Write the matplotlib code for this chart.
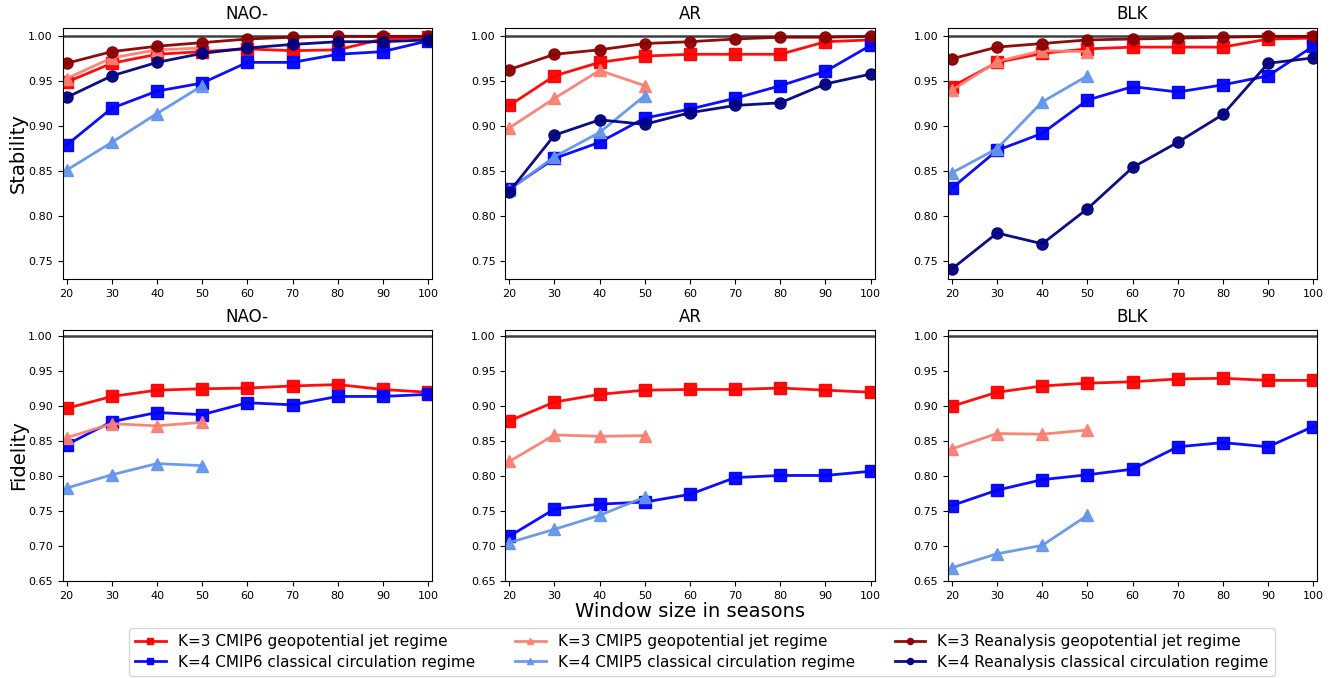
import matplotlib
matplotlib.use("Agg")
import matplotlib.pyplot as plt

windows = [20, 30, 40, 50, 60, 70, 80, 90, 100]
windows_cmip5 = [20, 30, 40, 50]
regions = ["NAO-", "AR", "BLK"]

# stability, per region
stab_cmip6_k3 = {
    "NAO-": [0.949, 0.970, 0.980, 0.983, 0.986, 0.984, 0.985, 0.997, 0.999],
    "AR": [0.923, 0.956, 0.971, 0.978, 0.980, 0.980, 0.980, 0.994, 0.996],
    "BLK": [0.944, 0.971, 0.981, 0.986, 0.988, 0.988, 0.988, 0.997, 0.998],
}
stab_cmip6_k4 = {
    "NAO-": [0.879, 0.920, 0.939, 0.948, 0.971, 0.971, 0.980, 0.983, 0.995],
    "AR": [0.830, 0.864, 0.882, 0.909, 0.919, 0.931, 0.945, 0.961, 0.990],
    "BLK": [0.831, 0.873, 0.892, 0.929, 0.944, 0.938, 0.946, 0.956, 0.989],
}
stab_cmip5_k3 = {
    "NAO-": [0.953, 0.976, 0.985, 0.987],
    "AR": [0.898, 0.931, 0.962, 0.945],
    "BLK": [0.940, 0.972, 0.984, 0.983],
}
stab_cmip5_k4 = {
    "NAO-": [0.851, 0.882, 0.914, 0.945],
    "AR": [0.829, 0.866, 0.893, 0.934],
    "BLK": [0.848, 0.875, 0.927, 0.956],
}
stab_rean_k3 = {
    "NAO-": [0.970, 0.983, 0.989, 0.993, 0.997, 0.999, 1.000, 1.000, 1.000],
    "AR": [0.963, 0.980, 0.985, 0.992, 0.994, 0.997, 0.999, 0.999, 1.000],
    "BLK": [0.975, 0.988, 0.992, 0.996, 0.997, 0.998, 0.999, 1.000, 1.000],
}
stab_rean_k4 = {
    "NAO-": [0.932, 0.956, 0.971, 0.981, 0.987, 0.991, 0.994, 0.994, 0.996],
    "AR": [0.827, 0.890, 0.907, 0.902, 0.915, 0.923, 0.926, 0.947, 0.958],
    "BLK": [0.741, 0.781, 0.769, 0.808, 0.854, 0.882, 0.913, 0.970, 0.976],
}

# fidelity, per region
fid_cmip6_k3 = {
    "NAO-": [0.897, 0.914, 0.923, 0.925, 0.926, 0.929, 0.931, 0.924, 0.920],
    "AR": [0.879, 0.906, 0.917, 0.923, 0.924, 0.924, 0.926, 0.923, 0.920],
    "BLK": [0.900, 0.920, 0.929, 0.933, 0.935, 0.939, 0.940, 0.937, 0.937],
}
fid_cmip6_k4 = {
    "NAO-": [0.845, 0.878, 0.891, 0.888, 0.905, 0.902, 0.914, 0.914, 0.917],
    "AR": [0.714, 0.753, 0.760, 0.763, 0.774, 0.798, 0.801, 0.801, 0.807],
    "BLK": [0.758, 0.780, 0.795, 0.802, 0.810, 0.842, 0.848, 0.842, 0.871],
}
fid_cmip5_k3 = {
    "NAO-": [0.855, 0.875, 0.872, 0.877],
    "AR": [0.821, 0.859, 0.857, 0.858],
    "BLK": [0.839, 0.861, 0.860, 0.866],
}
fid_cmip5_k4 = {
    "NAO-": [0.783, 0.802, 0.818, 0.815],
    "AR": [0.705, 0.724, 0.744, 0.770],
    "BLK": [0.669, 0.689, 0.701, 0.744],
}

STYLE = {
    "cmip6_k3": dict(color="red", marker="s", label="K=3 CMIP6 geopotential jet regime"),
    "cmip6_k4": dict(color="blue", marker="s", label="K=4 CMIP6 classical circulation regime"),
    "cmip5_k3": dict(color="salmon", marker="^", label="K=3 CMIP5 geopotential jet regime"),
    "cmip5_k4": dict(color="cornflowerblue", marker="^", label="K=4 CMIP5 classical circulation regime"),
    "rean_k3": dict(color="darkred", marker="o", label="K=3 Reanalysis geopotential jet regime"),
    "rean_k4": dict(color="navy", marker="o", label="K=4 Reanalysis classical circulation regime"),
}


def draw(ax, x, y, key):
    ax.plot(x, y, linewidth=2, markersize=8, alpha=0.95, **STYLE[key])


fig, axes = plt.subplots(2, 3, figsize=(13.32, 6.78), dpi=100)
fig.subplots_adjust(left=0.047, right=0.989, top=0.959, bottom=0.143,
                    hspace=0.204, wspace=0.198)

for j, reg in enumerate(regions):
    ax = axes[0, j]
    ax.axhline(1.0, color="black", linewidth=1.8, alpha=0.75, zorder=0)
    draw(ax, windows, stab_cmip6_k3[reg], "cmip6_k3")
    draw(ax, windows, stab_cmip6_k4[reg], "cmip6_k4")
    draw(ax, windows_cmip5, stab_cmip5_k3[reg], "cmip5_k3")
    draw(ax, windows_cmip5, stab_cmip5_k4[reg], "cmip5_k4")
    draw(ax, windows, stab_rean_k3[reg], "rean_k3")
    draw(ax, windows, stab_rean_k4[reg], "rean_k4")
    ax.set_ylim(0.73, 1.0095)
    ax.set_yticks([0.75, 0.80, 0.85, 0.90, 0.95, 1.00])

    ax = axes[1, j]
    ax.axhline(1.0, color="black", linewidth=1.8, alpha=0.75, zorder=0)
    draw(ax, windows, fid_cmip6_k3[reg], "cmip6_k3")
    draw(ax, windows, fid_cmip6_k4[reg], "cmip6_k4")
    draw(ax, windows_cmip5, fid_cmip5_k3[reg], "cmip5_k3")
    draw(ax, windows_cmip5, fid_cmip5_k4[reg], "cmip5_k4")
    ax.set_ylim(0.65, 1.009)
    ax.set_yticks([0.65, 0.70, 0.75, 0.80, 0.85, 0.90, 0.95, 1.00])

for ax, reg in zip(axes.flat, regions * 2):
    ax.set_title(reg, fontsize=12)
    ax.set_xlim(19.1, 100.9)
    ax.set_xticks(windows)
    ax.tick_params(labelsize=8)
    ax.yaxis.set_major_formatter(matplotlib.ticker.FormatStrFormatter("%.2f"))

axes[0, 0].set_ylabel("Stability", fontsize=14, labelpad=0)
axes[1, 0].set_ylabel("Fidelity", fontsize=14, labelpad=0)
axes[1, 1].set_xlabel("Window size in seasons", fontsize=14, labelpad=1)

# legend order follows column-major layout of the reference
handles, labels = axes[0, 0].get_legend_handles_labels()
fig.legend(handles, labels, loc="lower center", ncol=3, fontsize=11,
           markerscale=0.55, bbox_to_anchor=(0.527, 0.0), columnspacing=2.6,
           borderaxespad=0.15, labelspacing=0.35)

fig.savefig("out.png", dpi=100)
